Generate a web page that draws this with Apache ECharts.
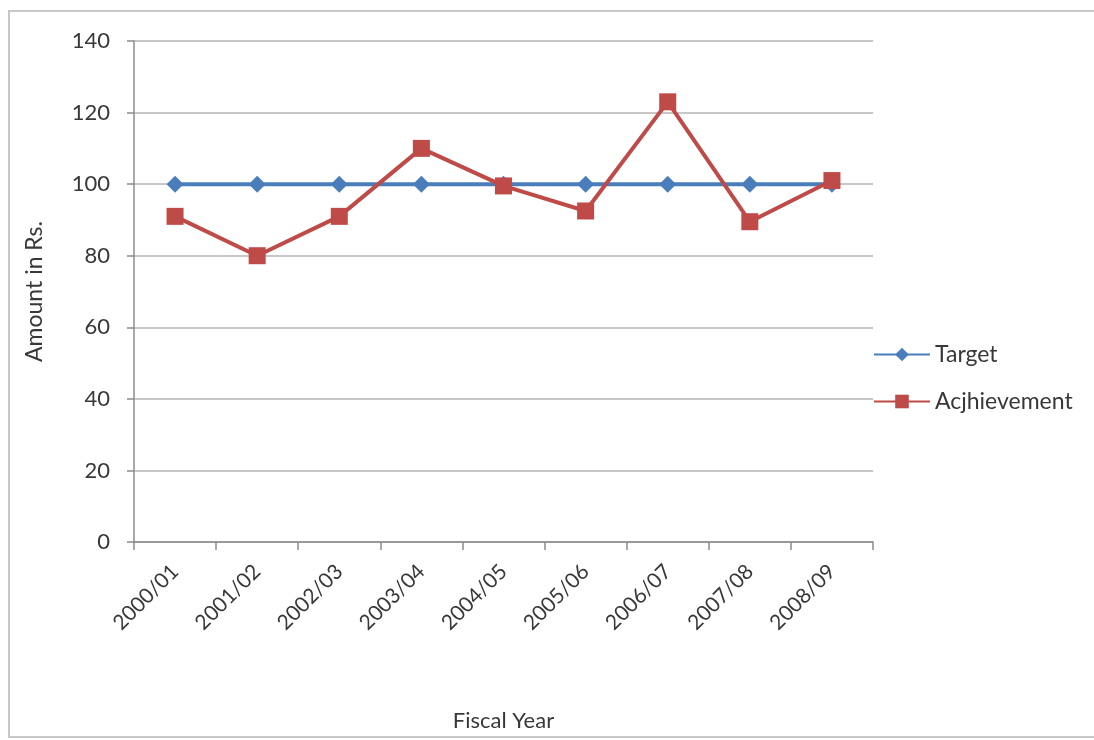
<!doctype html>
<html>
	<head>
		<meta charset="utf-8">
		<title>Target vs Achievement</title>
		<script src="https://cdn.jsdelivr.net/npm/echarts@6/dist/echarts.min.js"></script>
		<style>
			body { margin: 0; background: #fff; overflow: hidden; }
			#chart { position: absolute; left: 0; top: 0; width: 1094px; height: 740px; }
			#frame { position: absolute; left: 8px; top: 10px; width: 1100px; height: 724px; border: 2px solid #c8c8c8; pointer-events: none; }
		</style>
	</head>
	<body>
		<div id="chart"></div>
		<div id="frame"></div>

		<script>
			const years = ["2000/01", "2001/02", "2002/03", "2003/04", "2004/05", "2005/06", "2006/07", "2007/08", "2008/09"];
			const target = [100, 100, 100, 100, 100, 100, 100, 100, 100];
			const achievement = [91, 80, 91, 110, 99.5, 92.5, 123, 89.5, 101];

			const font = "Lato, 'Open Sans', sans-serif";
			const textColor = "#383838";

			let myChart = echarts.init(document.getElementById("chart"), null, {
				width: 1094,
				height: 740
			});

			myChart.setOption({
				animation: false,
				textStyle: { fontFamily: font },
				grid: {
					left: 134,
					right: 221,
					top: 41,
					bottom: 198,
					outerBoundsMode: "none"
				},
				legend: {
					orient: "vertical",
					left: 868,
					top: 338,
					itemGap: 24,
					itemWidth: 56,
					itemHeight: 17,
					textStyle: { fontSize: 23, color: textColor, fontFamily: font },
					data: ["Target", "Acjhievement"]
				},
				xAxis: {
					type: "category",
					data: years,
					boundaryGap: true,
					name: "Fiscal Year",
					nameLocation: "middle",
					nameGap: 168,
					nameTextStyle: { fontSize: 22, color: textColor },
					axisLine: { lineStyle: { color: "#8c8c8c", width: 1.5 } },
					axisTick: { show: true, length: 8, lineStyle: { color: "#8c8c8c", width: 1.5 } },
					axisLabel: {
						rotate: 45,
						interval: 0,
						margin: 26,
						fontSize: 21,
						color: textColor
					},
					splitLine: { show: false }
				},
				yAxis: {
					type: "value",
					min: 0,
					max: 140,
					interval: 20,
					name: "Amount in Rs.",
					nameLocation: "middle",
					nameGap: 88,
					nameTextStyle: { fontSize: 23, color: textColor },
					axisLine: { show: true, lineStyle: { color: "#8c8c8c", width: 1.5 } },
					axisTick: { show: true, length: 7, lineStyle: { color: "#8c8c8c", width: 1.5 } },
					axisLabel: { fontSize: 22, color: textColor, margin: 24 },
					splitLine: { lineStyle: { color: "#b4b4b4", width: 1.5 } }
				},
				series: [
					{
						name: "Target",
						type: "line",
						data: target,
						symbol: "diamond",
						symbolSize: 17,
						z: 2,
						itemStyle: { color: "#4a7ebb" },
						lineStyle: { color: "#4a7ebb", width: 4 }
					},
					{
						name: "Acjhievement",
						type: "line",
						data: achievement,
						symbol: "rect",
						symbolSize: 17,
						z: 3,
						itemStyle: { color: "#be4b48" },
						lineStyle: { color: "#be4b48", width: 4 }
					}
				]
			});
		</script>
	</body>
</html>
